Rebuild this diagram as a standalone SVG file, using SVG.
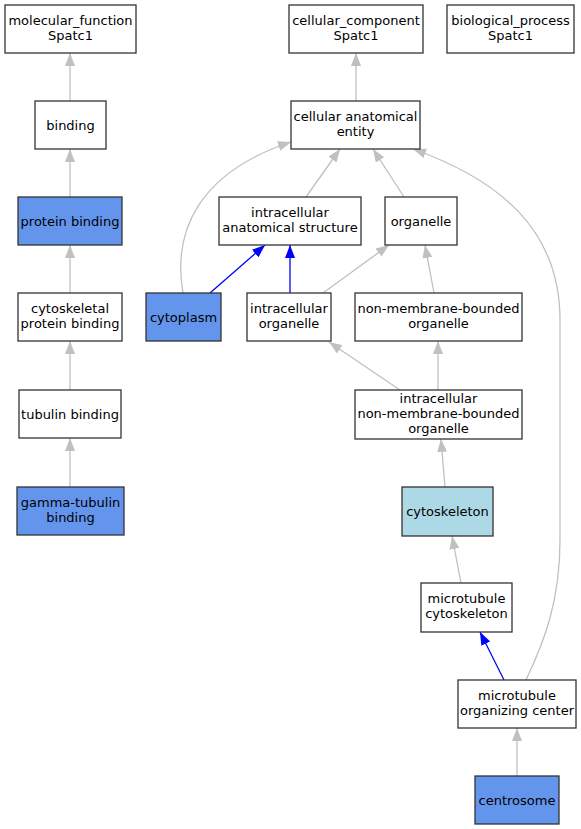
<svg xmlns="http://www.w3.org/2000/svg" width="581" height="829" viewBox="0 0 581 829">
<style>
.n rect{stroke:#333;stroke-width:1.3;fill:#fff}
.n.hl rect{fill:#6495ed}
.n.lb rect{fill:#add8e6}
text{font-family:"DejaVu Sans","Liberation Sans",sans-serif;font-size:13px;fill:#000;text-anchor:middle}
.e path{fill:none;stroke:#c0c0c0;stroke-width:1.3}
.e path.b{stroke:#0000ff}
</style>
<defs>
<marker id="ag" markerUnits="userSpaceOnUse" markerWidth="13" markerHeight="10" refX="13" refY="5" orient="auto"><path d="M0,0 L13,5 L0,10 z" fill="#c0c0c0"/></marker>
<marker id="ab" markerUnits="userSpaceOnUse" markerWidth="13" markerHeight="10" refX="13" refY="5" orient="auto"><path d="M0,0 L13,5 L0,10 z" fill="#0000ff"/></marker>
</defs>
<rect width="581" height="829" fill="#fff"/>
<g class="e" id="edges">
<path d="M70,101 L70,53" marker-end="url(#ag)"/>
<path d="M70,197 L70,149" marker-end="url(#ag)"/>
<path d="M70,293 L70,245" marker-end="url(#ag)"/>
<path d="M70,390 L70,341" marker-end="url(#ag)"/>
<path d="M70,487 L70,438" marker-end="url(#ag)"/>
<path d="M356,101 L356,53" marker-end="url(#ag)"/>
<path d="M183,293 C172,230 200,172 291,142" marker-end="url(#ag)"/>
<path d="M306,197 L340,149" marker-end="url(#ag)"/>
<path d="M404,197 L373,149" marker-end="url(#ag)"/>
<path d="M526,680 C545,640 560,600 560,540 L560,320 C560,230 500,180 413,149" marker-end="url(#ag)"/>
<path class="b" d="M210,293 L265,245" marker-end="url(#ab)"/>
<path class="b" d="M290,293 L290,245" marker-end="url(#ab)"/>
<path d="M323,293 L389,245" marker-end="url(#ag)"/>
<path d="M434,293 L425,245" marker-end="url(#ag)"/>
<path d="M400,390 L329,342" marker-end="url(#ag)"/>
<path d="M438,390 L438,341" marker-end="url(#ag)"/>
<path d="M445,487 L441,439" marker-end="url(#ag)"/>
<path d="M461,583 L452,536" marker-end="url(#ag)"/>
<path class="b" d="M504,680 L480,632" marker-end="url(#ab)"/>
<path d="M517,776 L517,728" marker-end="url(#ag)"/>
</g>
<g class="n" id="molecular_function"><rect x="5" y="5" width="131" height="48"/><text x="70.5" y="25">molecular_function</text><text x="70.5" y="40">Spatc1</text></g>
<g class="n" id="binding"><rect x="35" y="101" width="71" height="48"/><text x="70.5" y="129.5">binding</text></g>
<g class="n hl" id="protein_binding"><rect x="18" y="197" width="104" height="48"/><text x="70" y="225.5">protein binding</text></g>
<g class="n" id="cytoskeletal_protein_binding"><rect x="18" y="293" width="104" height="48"/><text x="70" y="313">cytoskeletal</text><text x="70" y="328">protein binding</text></g>
<g class="n" id="tubulin_binding"><rect x="19" y="390" width="102" height="48"/><text x="70" y="418.5">tubulin binding</text></g>
<g class="n hl" id="gamma_tubulin_binding"><rect x="17" y="487" width="107" height="48"/><text x="70.5" y="507">gamma-tubulin</text><text x="70.5" y="522">binding</text></g>
<g class="n" id="cellular_component"><rect x="289" y="5" width="134" height="48"/><text x="356" y="25">cellular_component</text><text x="356" y="40">Spatc1</text></g>
<g class="n" id="biological_process"><rect x="447" y="5" width="127" height="48"/><text x="510.5" y="25">biological_process</text><text x="510.5" y="40">Spatc1</text></g>
<g class="n" id="cellular_anatomical_entity"><rect x="291" y="101" width="129" height="48"/><text x="355.5" y="121">cellular anatomical</text><text x="355.5" y="136">entity</text></g>
<g class="n" id="intracellular_anatomical_structure"><rect x="219" y="197" width="142" height="48"/><text x="290" y="217">intracellular</text><text x="290" y="232">anatomical structure</text></g>
<g class="n" id="organelle"><rect x="385" y="197" width="72" height="48"/><text x="421" y="225.5">organelle</text></g>
<g class="n hl" id="cytoplasm"><rect x="146" y="293" width="75" height="48"/><text x="183.5" y="321.5">cytoplasm</text></g>
<g class="n" id="intracellular_organelle"><rect x="247" y="293" width="84" height="48"/><text x="289" y="313">intracellular</text><text x="289" y="328">organelle</text></g>
<g class="n" id="non_membrane_bounded_organelle"><rect x="355" y="293" width="167" height="48"/><text x="438.5" y="313">non-membrane-bounded</text><text x="438.5" y="328">organelle</text></g>
<g class="n" id="intracellular_nmbo"><rect x="355" y="390" width="167" height="49"/><text x="438.5" y="403">intracellular</text><text x="438.5" y="418">non-membrane-bounded</text><text x="438.5" y="433">organelle</text></g>
<g class="n lb" id="cytoskeleton"><rect x="402" y="487" width="91" height="49"/><text x="447.5" y="516">cytoskeleton</text></g>
<g class="n" id="microtubule_cytoskeleton"><rect x="421" y="583" width="91" height="49"/><text x="466.5" y="603">microtubule</text><text x="466.5" y="618">cytoskeleton</text></g>
<g class="n" id="microtubule_organizing_center"><rect x="458" y="680" width="118" height="48"/><text x="517" y="700">microtubule</text><text x="517" y="715">organizing center</text></g>
<g class="n hl" id="centrosome"><rect x="475" y="776" width="84" height="48"/><text x="517" y="804.5">centrosome</text></g>
</svg>
